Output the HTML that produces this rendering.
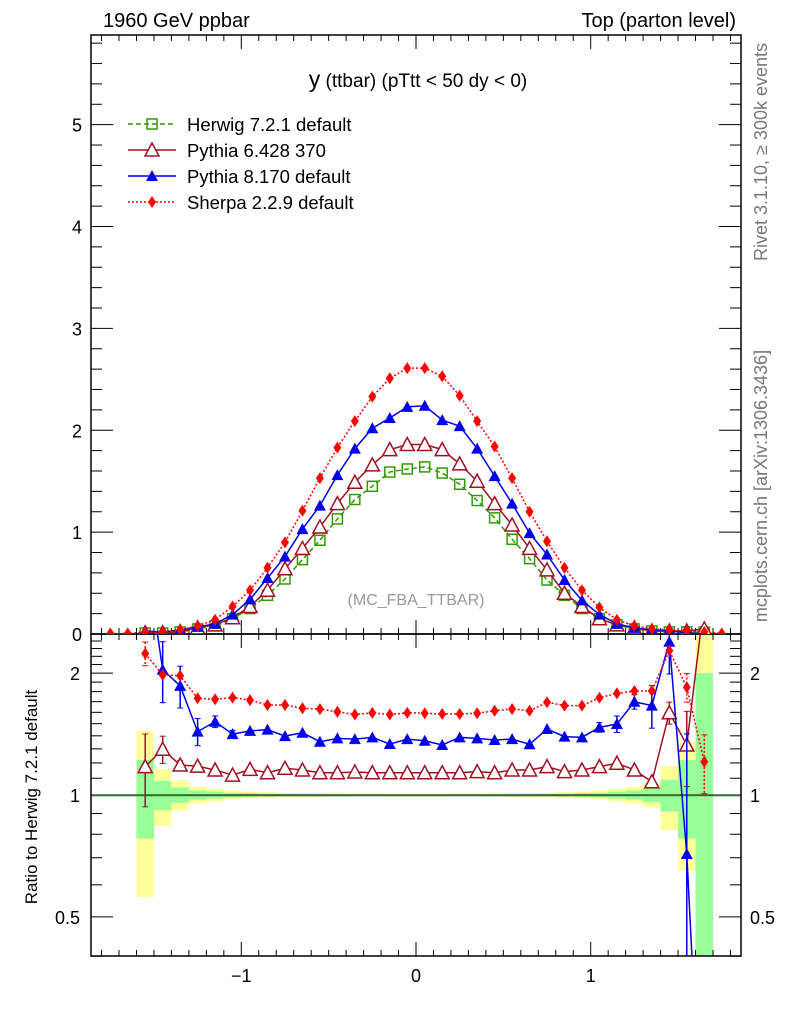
<!DOCTYPE html>
<html><head><meta charset="utf-8"><style>
html,body{margin:0;padding:0;background:#fff;width:786px;height:1024px;overflow:hidden;}
svg{display:block;font-family:"Liberation Sans",Arial,sans-serif;}
</style></head><body>
<svg id="chart" width="786" height="1024" viewBox="0 0 786 1024" xmlns="http://www.w3.org/2000/svg">
<defs>
<clipPath id="cm"><rect x="91" y="35" width="650" height="599"/></clipPath>
<clipPath id="cr"><rect x="91" y="634" width="650" height="322"/></clipPath>
</defs>
<text x="103" y="27" font-size="20">1960 GeV ppbar</text>
<text x="736" y="27" font-size="20" text-anchor="end">Top (parton level)</text>
<text x="418" y="87" text-anchor="middle"><tspan font-size="23">y</tspan><tspan font-size="19"> (ttbar) (pTtt &lt; 50 dy &lt; 0)</tspan></text>
<text x="416" y="605" font-size="16" fill="#999" text-anchor="middle">(MC_FBA_TTBAR)</text>
<text transform="translate(767,152) rotate(-90)" font-size="18" fill="#777" text-anchor="middle">Rivet 3.1.10, ≥ 300k events</text>
<text transform="translate(767,486) rotate(-90)" font-size="18" fill="#777" text-anchor="middle">mcplots.cern.ch [arXiv:1306.3436]</text>
<text transform="translate(37,797) rotate(-90)" font-size="17" text-anchor="middle">Ratio to Herwig 7.2.1 default</text>
<g id="bands" clip-path="url(#cr)"></g>
<g id="axes"></g>
<g id="mainMarks" clip-path="url(#cm)"></g>
<g id="ratioMarks" clip-path="url(#cr)"></g>
<g id="legend"></g>
</svg>
<script>
const binCenters=[-1.75,-1.65,-1.55,-1.45,-1.35,-1.25,-1.15,-1.05,-0.95,-0.85,-0.75,-0.65,-0.55,-0.45,-0.35,-0.25,-0.15,-0.05,0.05,0.15,0.25,0.35,0.45,0.55,0.65,0.75,0.85,0.95,1.05,1.15,1.25,1.35,1.45,1.55,1.65,1.75];
const herwig=[null,null,.01,.01,.02,.05,.08,.15,.25,.38,.54,.73,.92,1.13,1.32,1.45,1.59,1.62,1.64,1.58,1.47,1.31,1.14,.93,.74,.53,.38,.25,.15,.09,.05,.03,.02,.02,.02,null];
const pythia6=[null,null,.012,.013,.024,.06,.09,.16,.27,.43,.64,.84,1.05,1.28,1.49,1.66,1.81,1.86,1.86,1.81,1.67,1.50,1.28,1.07,.84,.63,.40,.27,.15,.09,.06,.03,.03,.03,.05,null];
const pythia8=[null,null,.03,.02,.04,.07,.10,.19,.34,.55,.76,1.03,1.26,1.56,1.82,2.02,2.12,2.23,2.24,2.10,2.04,1.82,1.55,1.28,.99,.78,.53,.33,.19,.10,.06,.04,.03,.014,0,null];
const sherpa=[.005,.005,.02,.02,.04,.08,.14,.27,.43,.65,.90,1.21,1.53,1.83,2.09,2.33,2.51,2.61,2.61,2.53,2.34,2.09,1.84,1.53,1.20,.91,.65,.43,.26,.14,.08,.05,.04,.03,.02,.005];
const ratioP6=[null,null,1.175,1.297,1.186,1.178,1.153,1.12,1.157,1.135,1.164,1.153,1.135,1.135,1.14,1.135,1.135,1.135,1.135,1.135,1.135,1.142,1.135,1.153,1.153,1.175,1.142,1.153,1.175,1.198,1.153,1.078,1.596,1.329,3.0,null];
const ratioP8=[null,null,4.0,2.04,1.86,1.434,1.517,1.414,1.44,1.45,1.398,1.425,1.354,1.38,1.374,1.388,1.336,1.374,1.361,1.329,1.388,1.38,1.367,1.374,1.334,1.455,1.394,1.388,1.469,1.497,1.699,1.662,2.39,0.715,0.1,null];
const ratioSh=[null,null,2.236,1.979,1.97,1.733,1.724,1.74,1.715,1.668,1.668,1.637,1.63,1.605,1.58,1.595,1.58,1.595,1.592,1.585,1.585,1.592,1.614,1.631,1.614,1.694,1.662,1.662,1.738,1.782,1.806,1.806,2.273,1.845,1.208,null];
const errP6=[0,0,.24,.1,.03,0,0,0,0,0,0,0,0,0,0,0,0,0,0,0,0,0,0,0,0,0,0,0,0,0,0,0,.1,.28,0,0];
const errP8=[0,0,0,.35,.22,.11,.05,.03,0,0,0,0,0,0,0,0,0,0,0,0,0,0,0,0,0,0,0,0,.04,.07,.07,.2,.4,.7,0,0];
const errSh=[0,0,.15,0,0,0,0,0,0,0,0,0,0,0,0,0,0,0,0,0,0,0,0,0,0,0,0,0,0,0,0,0,0,.15,.2,0];
const bandYellow=[null,null,.44,.16,.085,.048,.036,.025,.02,.016,.013,.011,.01,.009,.008,.008,.007,.007,.007,.007,.008,.008,.009,.01,.011,.013,.016,.02,.025,.035,.048,.07,.18,.35,1.6,null];
const bandGreen=[null,null,.22,.083,.044,.026,.02,.013,.01,.008,.007,.006,.005,.005,.004,.004,.004,.004,.004,.004,.004,.004,.005,.005,.006,.007,.008,.01,.013,.02,.026,.04,.09,.22,1.0,null];
const mainTicks=[0,1,2,3,4,5];
const ratioTicks=[0.5,1,2];
const xTicks=[-1,0,1];
const binWidth=0.1;

const NS="http://www.w3.org/2000/svg";
const L=91,Rr=741,T=35,MB=634,RB=956;
const X=v=>416+v*174.7;
const Y=v=>634-v*(599/5.88);
const RY=v=>795-405*Math.log10(Math.max(v,1e-3));
function mk(tag,attrs,parent){const e=document.createElementNS(NS,tag);for(const k in attrs)e.setAttribute(k,attrs[k]);parent.appendChild(e);return e;}
const axes=document.getElementById('axes'),bands=document.getElementById('bands'),mm=document.getElementById('mainMarks'),rm=document.getElementById('ratioMarks'),lg=document.getElementById('legend');

binCenters.forEach((c,i)=>{
  if(bandYellow[i]==null)return;
  const x0=X(c-binWidth/2),w=X(c+binWidth/2)-x0;
  const yt=RY(1+bandYellow[i]),yb=1-bandYellow[i]>0?RY(1-bandYellow[i]):RB+5;
  const r1=mk('rect',{x:x0,y:yt,width:w,height:yb-yt,fill:'#ffff99'},bands);
  
  
  const gt=RY(1+bandGreen[i]),gb=1-bandGreen[i]>0?RY(1-bandGreen[i]):RB+5;
  const r2=mk('rect',{x:x0,y:gt,width:w,height:gb-gt,fill:'#99ff99'},bands);
  
  
});
mk('line',{x1:L,x2:Rr,y1:RY(1)+1,y2:RY(1)+1,stroke:'#6c6',"stroke-width":1},bands);

const f1=mk('rect',{x:L,y:T,width:Rr-L,height:MB-T,fill:'none',stroke:'#000',"stroke-width":1.5},axes);


const f2=mk('rect',{x:L,y:MB,width:Rr-L,height:RB-MB,fill:'none',stroke:'#000',"stroke-width":1.5},axes);


mk('line',{x1:L,x2:Rr,y1:RY(1),y2:RY(1),stroke:'#000',"stroke-width":1},axes);

for(let k=-18;k<=18;k++){
  const v=k/10,x=X(v);if(x<L||x>Rr)continue;
  const major=k%10===0,len=major?14:6;
  [T,MB].forEach(y0=>{mk('line',{x1:x,x2:x,y1:y0,y2:y0+len,stroke:'#000'},axes);});
  [MB,RB].forEach(y0=>{mk('line',{x1:x,x2:x,y1:y0,y2:y0-len,stroke:'#000'},axes);});
}
xTicks.forEach(v=>{
  const t=mk('text',{x:X(v),y:982,"font-size":18,"text-anchor":"middle"},axes);
  t.textContent=v<0?'\u2212'+Math.abs(v):String(v);
  
  
});
for(let k=0;k<=29;k++){
  const v=k*0.2,y=Y(v);if(y<T)continue;
  const major=k%5===0,len=major?22:11;
  mk('line',{x1:L,x2:L+len,y1:y,y2:y,stroke:'#000'},axes);
  mk('line',{x1:Rr,x2:Rr-len,y1:y,y2:y,stroke:'#000'},axes);
}
mainTicks.forEach(v=>{
  const t=mk('text',{x:82,y:Y(v)+7,"font-size":18,"text-anchor":"end"},axes);
  t.textContent=String(v);
  
  
});
[0.4,0.5,0.6,0.7,0.8,0.9,1,1.1,1.2,1.3,1.4,1.5,1.6,1.7,1.8,1.9,2,2.1,2.2,2.3,2.4].forEach(v=>{
  const y=RY(v);const major=(v===0.5||v===1||v===2),len=major?22:11;
  mk('line',{x1:L,x2:L+len,y1:y,y2:y,stroke:'#000'},axes);
  mk('line',{x1:Rr,x2:Rr-len,y1:y,y2:y,stroke:'#000'},axes);
});
ratioTicks.forEach(v=>{
  const t=mk('text',{x:80,y:RY(v)+7,"font-size":18,"text-anchor":"end"},axes);
  t.textContent=String(v);
  
  
  const t2=mk('text',{x:750,y:RY(v)+7,"font-size":18},axes);
  t2.textContent=String(v);
  
  
});

function marker(type,color,x,y,parent){
  if(type==='sq')return mk('rect',{x:x-5,y:y-5,width:10,height:10,fill:'none',stroke:color,"stroke-width":1.5},parent);
  if(type==='otri')return mk('polygon',{points:`${x},${y-7} ${x-7},${y+6} ${x+7},${y+6}`,fill:'#fff',stroke:color,"stroke-width":1.5},parent);
  if(type==='tri')return mk('polygon',{points:`${x},${y-6} ${x-6},${y+5} ${x+6},${y+5}`,fill:color},parent);
  return mk('polygon',{points:`${x},${y-6} ${x-4},${y} ${x},${y+6} ${x+4},${y}`,fill:color},parent);
}
const series=[
 {name:'herwig',data:herwig,ratio:null,err:null,color:'#339900',m:'sq',dash:'5,3',label:'Herwig 7.2.1 default'},
 {name:'pythia6',data:pythia6,ratio:ratioP6,err:errP6,color:'#a01020',m:'otri',dash:'',label:'Pythia 6.428 370'},
 {name:'pythia8',data:pythia8,ratio:ratioP8,err:errP8,color:'#0000ee',m:'tri',dash:'',label:'Pythia 8.170 default'},
 {name:'sherpa',data:sherpa,ratio:ratioSh,err:errSh,color:'#ff0000',m:'dia',dash:'2,2',label:'Sherpa 2.2.9 default'}
];
function drawSeries(s,vals,yf,parent,errs,tag){
  let pts=[];
  vals.forEach((v,i)=>{if(v!=null)pts.push([X(binCenters[i]),yf(v)]);});
  const pl=mk('polyline',{points:pts.map(p=>p.join(',')).join(' '),fill:'none',stroke:s.color,"stroke-width":1.5},parent);
  if(s.dash)pl.setAttribute('stroke-dasharray',s.dash);
  
  
  vals.forEach((v,i)=>{
    if(v==null)return;
    const x=X(binCenters[i]);
    if(errs&&errs[i]>0){
      const y1=yf(v+errs[i]),y2=yf(Math.max(v-errs[i],0.01));
      const eb=mk('line',{x1:x,x2:x,y1:y1,y2:y2,stroke:s.color,"stroke-width":1.5},parent);
      if(s.dash)eb.setAttribute('stroke-dasharray',s.dash);
      
      
      mk('line',{x1:x-3,x2:x+3,y1:y1,y2:y1,stroke:s.color},parent);
      mk('line',{x1:x-3,x2:x+3,y1:y2,y2:y2,stroke:s.color},parent);
    }
    const m=marker(s.m,s.color,x,yf(v),parent);
    
    
  });
}
series.forEach(s=>{
  drawSeries(s,s.data,Y,mm,null,'main');
  if(s.ratio)drawSeries(s,s.ratio,RY,rm,s.err,'ratio');
});
series.forEach((s,i)=>{
  const y=124+i*26;
  const ln=mk('line',{x1:128,x2:176,y1:y,y2:y,stroke:s.color,"stroke-width":1.5},lg);
  if(s.dash)ln.setAttribute('stroke-dasharray',s.dash);
  
  
  const m=marker(s.m,s.color,152,y,lg);
  
  
  const t=mk('text',{x:187,y:y+7,"font-size":18.5},lg);
  t.textContent=s.label;
  
  
});
</script>
</body></html>
